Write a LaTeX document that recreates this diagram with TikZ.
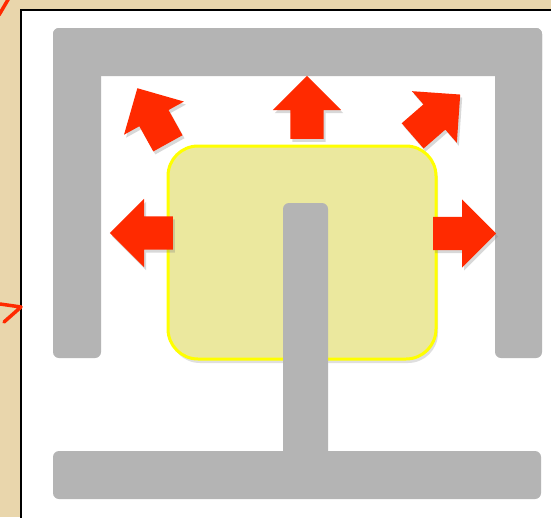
\documentclass[tikz,border=0pt]{standalone}
\usetikzlibrary{shapes.arrows,shadows}

\begin{document}
\begin{tikzpicture}[x=1pt, y=-1pt]
% Styles
\tikzstyle{none} = []
\tikzstyle{parchment}=[fill={rgb,255: red,233; green,214; blue,172}]
\tikzstyle{frame}=[fill=white, draw=black, line width=2.5pt]
\tikzstyle{greybar}=[fill={rgb,255: red,180; green,180; blue,180}, rounded corners=6pt]
\tikzstyle{core}=[fill={rgb,255: red,235; green,232; blue,158}, draw={rgb,255: red,255; green,255; blue,0}, line width=3pt, rounded corners=30pt, drop shadow={opacity=0.25, shadow xshift=2pt, shadow yshift=-4pt}]
\tikzstyle{pusharrow}=[single arrow, anchor=tail, fill={rgb,255: red,255; green,42; blue,0}, minimum height=63pt, minimum width=68pt, single arrow head extend=17.5pt, inner xsep=0pt, inner ysep=16.5pt, drop shadow={opacity=0.3, shadow xshift=2pt, shadow yshift=-3pt}]
\tikzstyle{stray}=[draw={rgb,255: red,255; green,42; blue,0}, line width=3.5pt, line cap=round, line join=round]

\useasboundingbox (0, 0) rectangle (551, 517);
\clip (0, 0) rectangle (551, 517);

\node [style=none] (1) at (21, 10) {};
\node [style=none] (2) at (600, 600) {};
\node [style=none] (3) at (53, 28) {};
\node [style=none] (4) at (542, 76) {};
\node [style=none] (5) at (101, 358) {};
\node [style=none] (6) at (495, 28) {};
\node [style=none] (7) at (542, 358) {};
\node [style=none] (8) at (168, 146) {};
\node [style=none] (9) at (436, 359) {};
\node [style=none] (10) at (283, 203) {};
\node [style=none] (11) at (328, 475) {};
\node [style=none] (12) at (53, 451) {};
\node [style=none] (13) at (541, 499) {};
\node [style=none] (19) at (0, 304) {};
\node [style=none] (20) at (21, 307) {};
\node [style=none] (21) at (4, 322) {};
\node [style=none] (22) at (-1, 15) {};
\node [style=none] (23) at (9, -2) {};

\fill [style=parchment] (0, 0) rectangle (551, 517);
\draw [style=frame] (1.center) rectangle (2.center);
\draw [style=stray] (19.center) to (20.center) to (21.center);
\draw [style=stray] (22.center) to (23.center);

\fill [style=greybar] (3.center) rectangle (4.center);
\fill [style=greybar] (3.center) rectangle (5.center);
\fill [style=greybar] (6.center) rectangle (7.center);
\draw [style=core] (8.center) rectangle (9.center);
\fill [style=greybar] (10.center) rectangle (11.center);
\fill [style=greybar] (12.center) rectangle (13.center);

\node [style=pusharrow, rotate=90] (14) at (307, 139) {};
\node [style=pusharrow, rotate=180] (15) at (173, 233) {};
\node [style=pusharrow] (16) at (433, 233.5) {};
\node [style=pusharrow, rotate=119] (17) at (168, 143.5) {};
\node [style=pusharrow, rotate=41] (18) at (412.5, 136) {};
\end{tikzpicture}
\end{document}
